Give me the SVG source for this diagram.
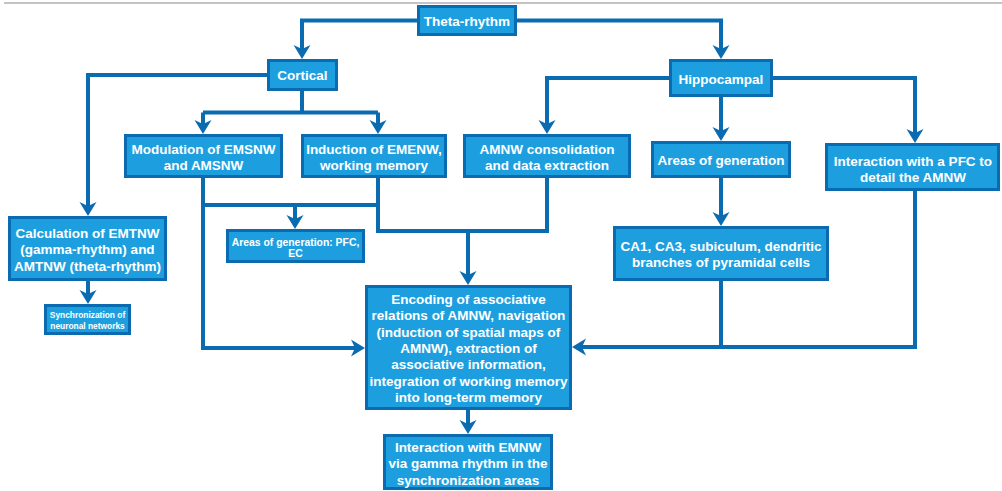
<svg xmlns="http://www.w3.org/2000/svg" width="1002" height="491" viewBox="0 0 1002 491">
  <style>
    .box { fill: #1d9fdf; stroke: #0b6bb0; stroke-width: 3; }
    .wire { fill: none; stroke: #0b6bb0; stroke-width: 4; stroke-linejoin: miter; }
    .arr { marker-end: url(#head); }
    text { font-family: "Liberation Sans", Arial, Helvetica, sans-serif; font-weight: bold; fill: #ffffff; text-anchor: middle; }
    .t { font-size: 13.5px; }
    .s { font-size: 10.4px; }
    .xs { font-size: 8.4px; }
  </style>
  <defs>
    <marker id="head" viewBox="-12 -9 17 18" refX="0" refY="0" markerWidth="17" markerHeight="18" markerUnits="userSpaceOnUse" orient="auto">
      <path d="M4,0 L-10,-8.5 L-6,0 L-10,8.5 Z" fill="#0b6bb0"/>
    </marker>
  </defs>

  <!-- top rule -->
  <rect x="4" y="2" width="998" height="2" fill="#c4c4c4"/>

  <g id="connectors">
    <path class="wire arr" d="M417,20.5 H302 V55"/>
    <path class="wire arr" d="M517,20.5 H721 V55"/>
    <path class="wire arr" d="M267,75 H88 V212"/>
    <path class="wire arr" d="M88,281 V300"/>
    <path class="wire" d="M302,91 V112.5"/>
    <path class="wire" d="M203,112.5 H378"/>
    <path class="wire arr" d="M203,112.5 V130"/>
    <path class="wire arr" d="M378,112.5 V130"/>
    <path class="wire arr" d="M203,178 V348 H361"/>
    <path class="wire" d="M203,205 H378"/>
    <path class="wire arr" d="M295,205 V225"/>
    <path class="wire" d="M378,178 V231 H547 V178"/>
    <path class="wire arr" d="M468,231 V281"/>
    <path class="wire arr" d="M669,78 H547 V130"/>
    <path class="wire arr" d="M773,78 H915 V139"/>
    <path class="wire arr" d="M721,97 V137"/>
    <path class="wire arr" d="M721,178 V222"/>
    <path class="wire" d="M721,281 V347"/>
    <path class="wire arr" d="M915,191 V347 H576"/>
    <path class="wire arr" d="M468,410 V430"/>
  </g>

  <g id="theta">
    <rect class="box" x="418.5" y="6.5" width="97" height="28"/>
    <text class="t" x="467" y="25.5">Theta-rhythm</text>
  </g>
  <g id="cortical">
    <rect class="box" x="268.5" y="60.5" width="68" height="29"/>
    <text class="t" x="302.5" y="80">Cortical</text>
  </g>
  <g id="hippocampal">
    <rect class="box" x="670.5" y="60.5" width="101" height="35"/>
    <text class="t" x="721" y="83.5">Hippocampal</text>
  </g>
  <g id="modulation">
    <rect class="box" x="125.5" y="135.5" width="156" height="41"/>
    <text class="t" x="203.5" y="153.5">Modulation of EMSNW</text>
    <text class="t" x="203.5" y="170">and AMSNW</text>
  </g>
  <g id="induction">
    <rect class="box" x="302.5" y="135.5" width="143" height="41"/>
    <text class="t" x="374" y="153.5">Induction of EMENW,</text>
    <text class="t" x="374" y="170">working memory</text>
  </g>
  <g id="consolidation">
    <rect class="box" x="464.5" y="135.5" width="165" height="41"/>
    <text class="t" x="547" y="153.5">AMNW consolidation</text>
    <text class="t" x="547" y="170">and data extraction</text>
  </g>
  <g id="areas">
    <rect class="box" x="652.5" y="142.5" width="137" height="34"/>
    <text class="t" x="721" y="164.5">Areas of generation</text>
  </g>
  <g id="pfc-interaction">
    <rect class="box" x="826.5" y="144.5" width="172" height="45"/>
    <text class="t" x="913" y="165.5">Interaction with a PFC to</text>
    <text class="t" x="913" y="182">detail the AMNW</text>
  </g>
  <g id="ca-regions">
    <rect class="box" x="614.5" y="227.5" width="213" height="52"/>
    <text class="t" x="721" y="250.5">CA1, CA3, subiculum, dendritic</text>
    <text class="t" x="721" y="267">branches of pyramidal cells</text>
  </g>
  <g id="calculation">
    <rect class="box" x="9.5" y="217.5" width="156" height="62"/>
    <text class="t" x="87.5" y="237.5">Calculation of EMTNW</text>
    <text class="t" x="87.5" y="254">(gamma-rhythm) and</text>
    <text class="t" x="87.5" y="270.5">AMTNW (theta-rhythm)</text>
  </g>
  <g id="areas-cortical">
    <rect class="box" x="227.5" y="230.5" width="136" height="31"/>
    <text class="s" x="295.5" y="245.5">Areas of generation: PFC,</text>
    <text class="s" x="295.5" y="257">EC</text>
  </g>
  <g id="synchronization">
    <rect class="box" x="45.5" y="305.5" width="84" height="28"/>
    <text class="xs" x="87.5" y="317.5">Synchronization of</text>
    <text class="xs" x="87.5" y="328.5">neuronal networks</text>
  </g>
  <g id="encoding">
    <rect class="box" x="366.5" y="286.5" width="204" height="122"/>
    <text class="t" x="468.5" y="304">Encoding of associative</text>
    <text class="t" x="468.5" y="320">relations of AMNW, navigation</text>
    <text class="t" x="468.5" y="336.5">(induction of spatial maps of</text>
    <text class="t" x="468.5" y="352.5">AMNW), extraction of</text>
    <text class="t" x="468.5" y="369">associative information,</text>
    <text class="t" x="468.5" y="385.5">integration of working memory</text>
    <text class="t" x="468.5" y="401.5">into long-term memory</text>
  </g>
  <g id="emnw-interaction">
    <rect class="box" x="384.5" y="435.5" width="167" height="53"/>
    <text class="t" x="468" y="451.5">Interaction with EMNW</text>
    <text class="t" x="468" y="468">via gamma rhythm in the</text>
    <text class="t" x="468" y="484.5">synchronization areas</text>
  </g>
</svg>
